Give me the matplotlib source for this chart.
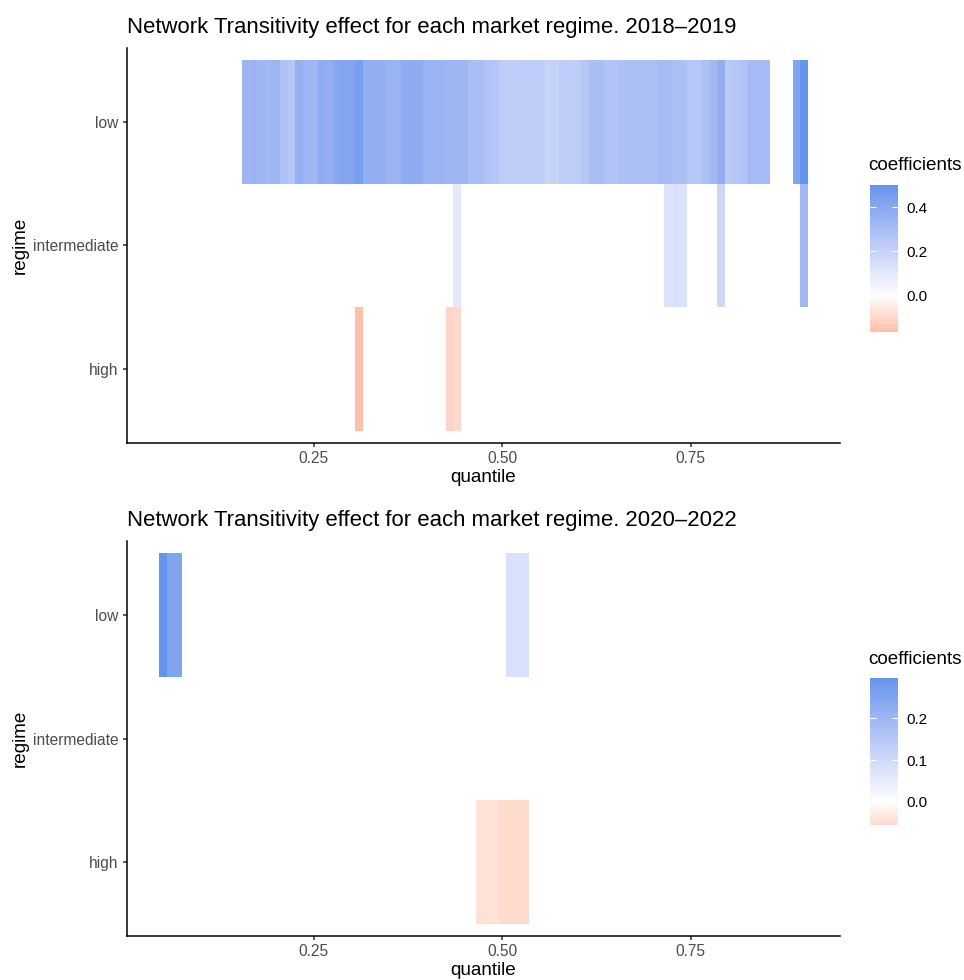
# -*- coding: utf-8 -*-
# Quantile regression heatmap: network transitivity effect per market regime
import matplotlib
matplotlib.use('Agg')
import matplotlib.pyplot as plt
from matplotlib.colors import ListedColormap, Normalize, to_rgb
import numpy as np

plt.rcParams['font.family'] = ['Liberation Sans', 'DejaVu Sans']

# ----------------------------------------
# Data (coefficients, 0 = not significant)
# ----------------------------------------
regimes = ['high', 'intermediate', 'low']          # bottom -> top
quantiles = np.round(np.arange(0.05, 0.905, 0.01), 2)

# 2018-2019
low_q_1819 = list(np.round(np.arange(0.16, 0.855, 0.01), 2)) + [0.89, 0.90]
low_c_1819 = [0.34, 0.35, 0.33, 0.32, 0.34, 0.28, 0.26, 0.36, 0.34, 0.33,
              0.38, 0.37, 0.41, 0.42, 0.42, 0.45, 0.37, 0.37, 0.37, 0.35,
              0.35, 0.38, 0.39, 0.38, 0.35, 0.35, 0.35, 0.34, 0.34, 0.34,
              0.30, 0.30, 0.27, 0.26, 0.23, 0.23, 0.23, 0.23, 0.23, 0.23,
              0.20, 0.21, 0.23, 0.23, 0.23, 0.26, 0.30, 0.30, 0.27, 0.27,
              0.29, 0.29, 0.29, 0.29, 0.29, 0.31, 0.31, 0.29, 0.29, 0.26,
              0.26, 0.29, 0.32, 0.37, 0.24, 0.26, 0.27, 0.31, 0.31, 0.31,
              0.42, 0.50]
mid_q_1819 = [0.44, 0.72, 0.73, 0.74, 0.79, 0.90]
mid_c_1819 = [0.10, 0.13, 0.14, 0.13, 0.18, 0.33]
high_q_1819 = [0.31, 0.43, 0.44]
high_c_1819 = [-0.164, -0.11, -0.10]

# 2020-2022
low_q_2022 = [0.05, 0.06, 0.07, 0.51, 0.52, 0.53]
low_c_2022 = [0.296, 0.25, 0.25, 0.08, 0.08, 0.08]
mid_q_2022 = []
mid_c_2022 = []
high_q_2022 = [0.47, 0.48, 0.49, 0.50, 0.51, 0.52, 0.53]
high_c_2022 = [-0.045, -0.045, -0.045, -0.055, -0.055, -0.055, -0.055]

panels = [
    ('Network Transitivity effect for each market regime. 2018\u20132019',
     [(high_q_1819, high_c_1819), (mid_q_1819, mid_c_1819), (low_q_1819, low_c_1819)],
     [0.0, 0.2, 0.4]),
    ('Network Transitivity effect for each market regime. 2020\u20132022',
     [(high_q_2022, high_c_2022), (mid_q_2022, mid_c_2022), (low_q_2022, low_c_2022)],
     [0.0, 0.1, 0.2]),
]

# ----------------------------------------
# gradient2-like colour map (interpolated in Lab)
# ----------------------------------------
M = np.array([[0.4124, 0.3576, 0.1805],
              [0.2126, 0.7152, 0.0722],
              [0.0193, 0.1192, 0.9505]])
Minv = np.linalg.inv(M)
WHITE_XYZ = np.array([0.95047, 1.0, 1.08883])
d = 6 / 29


def to_lab(c):
    c = np.asarray(to_rgb(c), float)
    lin = np.where(c <= 0.04045, c / 12.92, ((c + 0.055) / 1.055) ** 2.4)
    xyz = M @ lin / WHITE_XYZ
    f = np.where(xyz > d ** 3, np.cbrt(xyz), xyz / (3 * d ** 2) + 4 / 29)
    return np.array([116 * f[1] - 16, 500 * (f[0] - f[1]), 200 * (f[1] - f[2])])


def from_lab(lab):
    L, a, b = lab
    fy = (L + 16) / 116
    f = np.array([fy + a / 500, fy, fy - b / 200])
    xyz = np.where(f > d, f ** 3, 3 * d ** 2 * (f - 4 / 29)) * WHITE_XYZ
    lin = np.clip(Minv @ xyz, 0, 1)
    return np.where(lin <= 0.0031308, 12.92 * lin, 1.055 * lin ** (1 / 2.4) - 0.055)


lo, mi, hi = to_lab('red'), to_lab('white'), to_lab('cornflowerblue')
cols = []
for t in np.linspace(0, 1, 513):
    if t < 0.5:
        lab = lo + (mi - lo) * (t / 0.5)
    else:
        lab = mi + (hi - mi) * ((t - 0.5) / 0.5)
    cols.append(np.clip(from_lab(lab), 0, 1))
cmap = ListedColormap(cols)

# ----------------------------------------
# Figure
# ----------------------------------------
W, H = 964, 980
fig = plt.figure(figsize=(W / 100, H / 100), dpi=100)


def px_axes(l, t, r, b):
    return fig.add_axes([l / W, 1 - b / H, (r - l) / W, (b - t) / H])


x_edges = np.concatenate([quantiles - 0.005, [quantiles[-1] + 0.005]])
y_edges = np.array([0.5, 1.5, 2.5, 3.5])
tops = [48, 541]

for (title, rows, breaks), top in zip(panels, tops):
    ax = px_axes(127, top, 840, top + 395)
    Z = np.zeros((3, len(quantiles)))
    for i, (qs, cs) in enumerate(rows):
        for q, c in zip(qs, cs):
            j = int(np.argmin(np.abs(quantiles - q)))
            Z[i, j] = c
    vals = np.concatenate([np.asarray(cs, float) for _, cs in rows if len(cs)] + [[0.0]])
    m = np.max(np.abs(vals))
    norm = Normalize(-m, m)
    ax.pcolormesh(x_edges, y_edges, Z, cmap=cmap, norm=norm, shading='flat',
                  edgecolors='none')

    ax.set_xlim(0.002, 0.948)
    ax.set_ylim(0.4, 3.6)
    ax.set_xticks([0.25, 0.50, 0.75])
    ax.set_xticklabels(['0.25', '0.50', '0.75'])
    ax.set_yticks([1, 2, 3])
    ax.set_yticklabels(regimes)
    for s in ['top', 'right']:
        ax.spines[s].set_visible(False)
    for s in ['left', 'bottom']:
        ax.spines[s].set_linewidth(1.1)
        ax.spines[s].set_color('black')
    ax.tick_params(length=3, width=1.1, color='#333333', labelcolor='#4D4D4D',
                   labelsize=11.2, pad=3)
    ax.set_xlabel('quantile', fontsize=13.6, labelpad=2)
    ax.set_ylabel('regime', fontsize=13.6, labelpad=3)
    fig.text(127 / W, 1 - (top - 21) / H, title, fontsize=15.9, ha='left', va='center')

    # colour bar legend
    dmin, dmax = vals.min(), vals.max()
    leg_top = top + 137
    cax = px_axes(870, leg_top, 898, leg_top + 147)
    grad = np.linspace(dmin, dmax, 300)[:, None]
    cax.imshow(grad, cmap=cmap, norm=norm, origin='lower', aspect='auto',
               extent=[0, 1, dmin, dmax])
    cax.set_xlim(0, 1)
    cax.set_ylim(dmin, dmax)
    for b in breaks:
        cax.hlines(b, 0, 0.2, color='white', lw=0.8)
        cax.hlines(b, 0.8, 1, color='white', lw=0.8)
    for s in cax.spines.values():
        s.set_visible(False)
    cax.set_xticks([])
    cax.yaxis.tick_right()
    cax.set_yticks(breaks)
    cax.set_yticklabels([f'{b:.1f}' for b in breaks])
    cax.tick_params(axis='y', length=0, labelsize=11, pad=6, labelcolor='black')
    fig.text(868 / W, 1 - (leg_top - 19) / H, 'coefficients', fontsize=13.6,
             ha='left', va='center')

fig.savefig('out.png', dpi=100)
